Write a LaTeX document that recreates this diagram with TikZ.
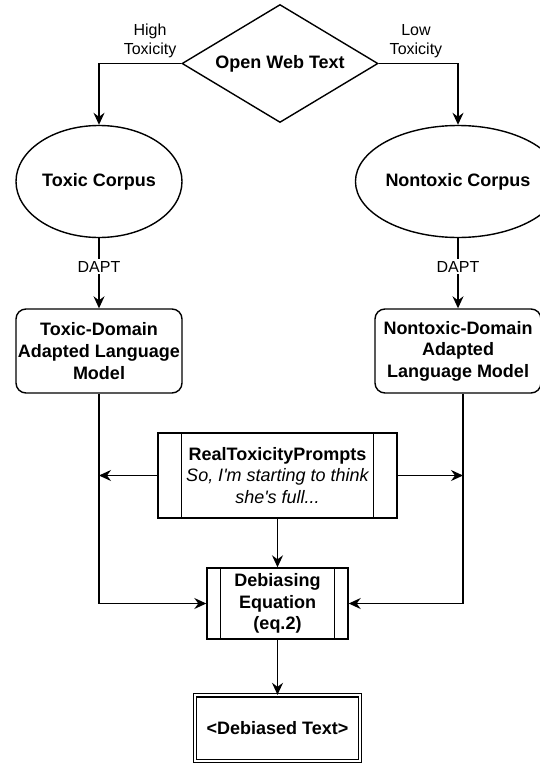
\documentclass[tikz,border=0pt]{standalone}
\usepackage{fontspec}
\setmainfont{Liberation Sans}
\usetikzlibrary{arrows.meta,shapes.geometric}
\tikzset{%
  bfnode/.style={font=\bfseries\fontsize{18}{21.6}\selectfont,align=center,inner sep=0,line width=1.4pt},
  dia/.style={bfnode,draw,shape=diamond,aspect=1.66,minimum width=196pt,minimum height=118pt},
  corpus/.style={bfnode,draw,shape=ellipse,minimum width=166pt,minimum height=112pt},
  lmbox/.style={bfnode,draw,rounded corners=10pt,minimum width=166pt,minimum height=84pt},
  procbox/.style={bfnode,draw,rectangle},
  outbox/.style={bfnode,draw,double,double distance=2pt,line width=1.2pt,minimum width=165pt,minimum height=66pt},
  elabel/.style={font=\fontsize{16}{19.2}\selectfont,align=center,inner sep=2pt},
  flow/.style={draw,line width=1.4pt,-{Stealth[length=12pt,width=11pt,inset=4pt]}}
}

\begin{document}
\begin{tikzpicture}[x=1pt,y=-1pt]
    \useasboundingbox (0,0) rectangle (540,763);
    \path
      (280,63.5) node (owt)[dia]{Open Web Text}
      (99,181.5) node (tcorpus)[corpus]{Toxic Corpus}
      (458,181.5) node (ncorpus)[corpus]{Nontoxic Corpus}
      (99,351) node (tmodel)[lmbox]{Toxic-Domain\\Adapted Language\\Model}
      (458,351) node (nmodel)[lmbox]{Nontoxic-Domain\\Adapted\\Language Model}
      (277.5,475.5) node (rtp)[procbox,minimum width=239pt,minimum height=85pt]
        {RealToxicityPrompts\\\mdseries\itshape So, I\textquotesingle m starting to think\\\mdseries\itshape she\textquotesingle s full...}
      (277.5,603.5) node (debias)[procbox,minimum width=141pt,minimum height=71pt]{Debiasing\\Equation\\(eq.2)}
      (277.5,728.4) node (output)[outbox]{<Debiased Text>};
    \coordinate (nout) at ([xshift=5pt]nmodel.south);
    \foreach \n/\d in {rtp/24,debias/14}{
      \draw[line width=1.4pt] ([xshift=\d pt]\n.north west) -- ([xshift=\d pt]\n.south west);
      \draw[line width=1.4pt] ([xshift=-\d pt]\n.north east) -- ([xshift=-\d pt]\n.south east);
    }
    \draw[flow] (owt.west) -| node[elabel,pos=0.19,above=3pt]{High\\Toxicity} (tcorpus.north);
    \draw[flow] (owt.east) -| node[elabel,pos=0.235,above=3pt]{Low\\Toxicity} (ncorpus.north);
    \draw[flow] (tcorpus) -- node[elabel,fill=white,pos=0.41]{DAPT} (tmodel);
    \draw[flow] (ncorpus) -- node[elabel,fill=white,pos=0.41]{DAPT} (nmodel);
    \draw[flow] (rtp.west) -- (rtp.west -| tmodel.south);
    \draw[flow] (rtp.east) -- (rtp.east -| nout);
    \draw[flow] (tmodel.south) |- (debias.west);
    \draw[flow] (nout) |- (debias.east);
    \draw[flow] (rtp) -- (debias);
    \draw[flow] (debias) -- (output);
  \end{tikzpicture}
\end{document}
